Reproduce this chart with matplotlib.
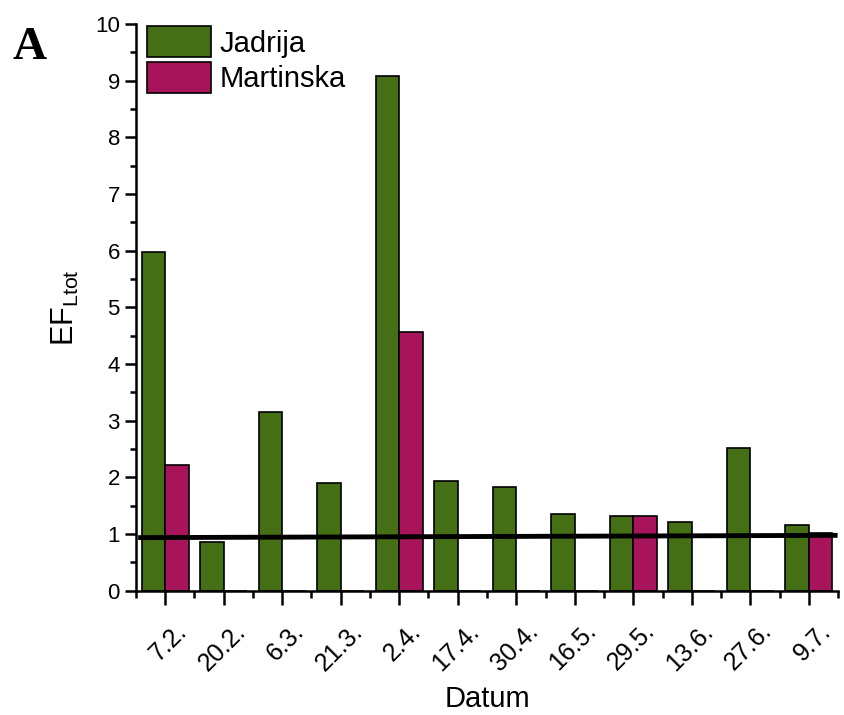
import matplotlib
matplotlib.use("Agg")
import matplotlib.pyplot as plt
import numpy as np
from matplotlib.patches import Patch
from matplotlib.ticker import MultipleLocator
import matplotlib.transforms as mtransforms

plt.rcParams['font.family'] = ['Liberation Sans', 'DejaVu Sans']
plt.rcParams['mathtext.fontset'] = 'custom'
plt.rcParams['mathtext.rm'] = 'Liberation Sans'
plt.rcParams['mathtext.it'] = 'Liberation Sans:italic'

dates = ["7.2.", "20.2.", "6.3.", "21.3.", "2.4.", "17.4.", "30.4.", "16.5.", "29.5.", "13.6.", "27.6.", "9.7."]
jadrija = [5.97, 0.85, 3.16, 1.90, 9.09, 1.93, 1.82, 1.35, 1.32, 1.21, 2.52, 1.15]
martinska = [2.21, 0, 0, 0, 4.56, 0, 0, 0, 1.31, 0, 0, 1.01]
trend_x = [-0.42, 11.45]
trend_y = [0.935, 0.975]

green = "#446F14"
magenta = "#A8145A"

fig = plt.figure(figsize=(8.44, 7.15), dpi=100)
ax = fig.add_axes([0.161, 0.174, 0.832, 0.7924])

x = np.arange(len(dates))
w = 0.4
ax.bar(x - w/2, jadrija, w, color=green, edgecolor='black', linewidth=1.2, zorder=2)
ax.bar(x + w/2, martinska, w, color=magenta, edgecolor='black', linewidth=1.2, zorder=2)
ax.plot(trend_x, trend_y, color='black', linewidth=3.5, zorder=3)

ax.set_xlim(-0.5, 11.5)
ax.set_ylim(0, 10)
ax.spines['top'].set_visible(False)
ax.spines['right'].set_visible(False)
ax.spines['left'].set_linewidth(1.8)
ax.spines['bottom'].set_linewidth(1.8)

ax.yaxis.set_major_locator(MultipleLocator(1))
ax.yaxis.set_minor_locator(MultipleLocator(0.5))
ax.set_xticks(x)
ax.set_xticks(np.arange(-0.5, 11.6, 1.0), minor=True)
ax.tick_params(axis='both', which='major', direction='out', width=1.8, labelsize=16)
ax.tick_params(axis='y', which='major', length=8)
ax.tick_params(axis='y', which='minor', length=4, width=1.8)
ax.tick_params(axis='x', which='major', length=10)
ax.tick_params(axis='x', which='minor', length=5, width=1.8)

ax.set_xticklabels(dates, rotation=45, ha='right', va='center', rotation_mode='anchor', fontsize=18)
offset = mtransforms.ScaledTranslation(18/100, -18/100, fig.dpi_scale_trans)
for lbl in ax.get_xticklabels():
    lbl.set_transform(lbl.get_transform() + offset)

ax.set_xlabel("Datum", fontsize=21)
ax.xaxis.set_label_coords(0.5, -0.166)
ax.set_ylabel(r"EF$_{\mathrm{Ltot}}$", fontsize=22, labelpad=10)

handles = [Patch(facecolor=green, edgecolor='black', linewidth=1.2),
           Patch(facecolor=magenta, edgecolor='black', linewidth=1.2)]
ax.legend(handles, ["Jadrija", "Martinska"], loc='upper left', bbox_to_anchor=(0.0, 1.016),
          frameon=False, fontsize=21, handlelength=2.2, handleheight=1.28,
          handletextpad=0.3, labelspacing=0.15, borderaxespad=0.0, borderpad=0.38)

fig.text(0.0154, 0.9175, "A", fontsize=34, fontweight='bold', family='Liberation Serif')

fig.savefig("out.png", dpi=100)
